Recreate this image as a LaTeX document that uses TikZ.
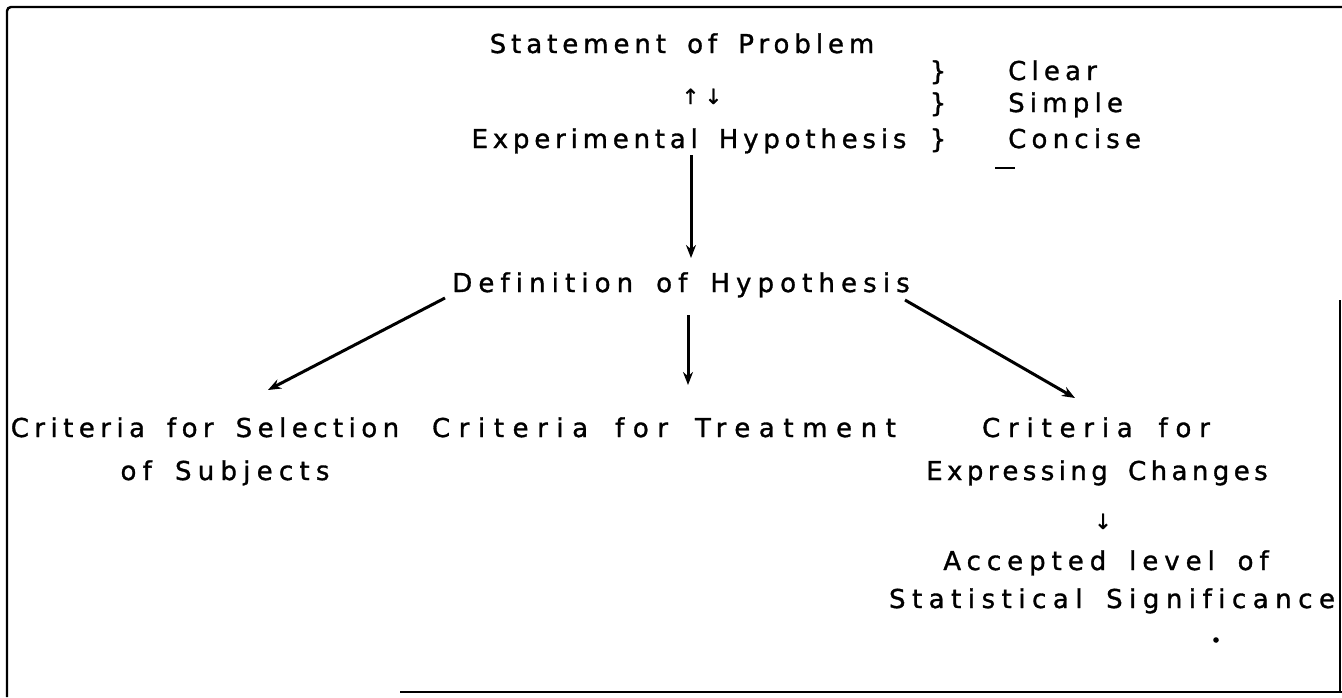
\documentclass[tikz,border=0pt]{standalone}
\usepackage{fontspec}
\setmainfont[Ligatures=NoCommon, FakeBold=1.2, WordSpace=1.6]{DejaVu Sans}
\usetikzlibrary{arrows.meta,calc}
\newcommand{\trk}[2]{{\addfontfeatures{LetterSpace=#1}#2}}
\tikzset{
  txt/.style={font=\fontsize{26}{30}\selectfont, inner sep=0pt, anchor=base},
  txtw/.style={txt, anchor=base west},
  small/.style={font=\fontsize{21}{24}\selectfont, inner sep=0pt, anchor=base},
  arr/.style={line width=3pt, -{Stealth[length=13pt,width=10pt]}},
  frame/.style={line width=2.4pt}
}
\begin{document}
\begin{tikzpicture}[x=1pt,y=-1pt]
\useasboundingbox (0,0) rectangle (1342,697);
% frame
\draw[frame, rounded corners=4pt] (7,697) -- (7,7) -- (1342,7);
\draw[frame] (1340,300) -- (1340,692);
\draw[frame] (400,692) -- (1342,692);
% texts
\node[txt] (stmt) at (682,53) {\trk{19}{Statement of Problem}};
\node[small] (ud) at (702,104) {\trk{25}{↑↓}};
\node[txt] (exp) at (689,148) {\trk{18.5}{Experimental Hypothesis}};
\node[txt] (br1) at (938,80) {\}};
\node[txt] (br2) at (938,112) {\}};
\node[txt] (br3) at (938,148) {\}};
\node[txtw] (clear) at (1008,80) {\trk{20}{Clear}};
\node[txtw] (simple) at (1008,112) {\trk{20}{Simple}};
\node[txtw] (concise) at (1008,148) {\trk{20}{Concise}};
\draw[line width=2pt] (995,168) -- (1015,168);
\node[txt] (def) at (681,292) {\trk{23.5}{Definition of Hypothesis}};
\node[txt] (sel) at (205,437) {\trk{21}{Criteria for Selection}};
\node[txt] (subj) at (225,480) {\trk{24}{of Subjects}};
\node[txt] (treat) at (664,437) {\trk{33}{Criteria for Treatment}};
\node[txt] (crit) at (1096,437) {\trk{30}{Criteria for}};
\node[txt] (expr) at (1097,480) {\trk{17}{Expressing Changes}};
\node[small] (down) at (1103,529) {↓};
\node[txt] (acc) at (1106,570) {\trk{23}{Accepted level of}};
\node[txt] (stat) at (1112,608) {\trk{25}{Statistical Significance}};
\fill (1216,640) circle (2.8);
% connectors
\draw[arr] ([shift={(2,7)}]exp.base) -- ([shift={(10,-34)}]def.base);
\draw[arr] ([shift={(-236,6)}]def.base) -- ([shift={(63,-47)}]sel.base);
\draw[arr] ([shift={(7,23)}]def.base) -- ([shift={(24,-52)}]treat.base);
\draw[arr] ([shift={(224,8)}]def.base) -- ([shift={(-21,-39)}]crit.base);
\end{tikzpicture}
\end{document}
